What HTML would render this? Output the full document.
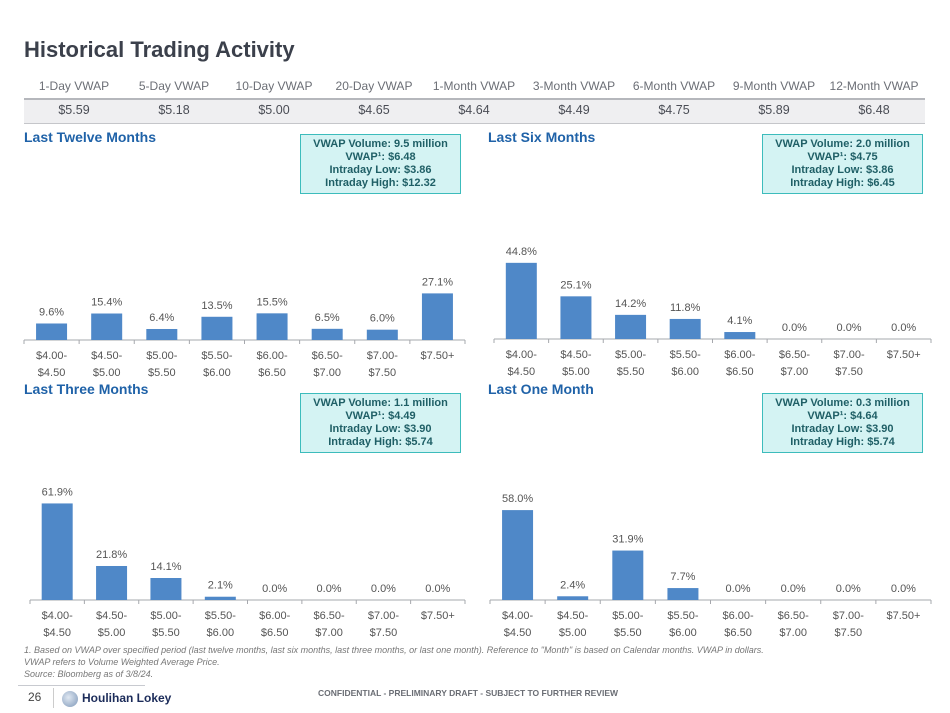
<!DOCTYPE html>
<html><head><meta charset="utf-8">
<style>
body{margin:0;background:#fff;}
#page{position:relative;width:950px;height:713px;overflow:hidden;font-family:"Liberation Sans",sans-serif;background:#fff;}
.abs{position:absolute;}
#title{left:24px;top:37px;font-size:22px;font-weight:bold;color:#3b404b;}
.hdr{position:absolute;top:79px;width:100px;text-align:center;font-size:12px;color:#6b6e75;}
.val{position:absolute;top:103px;width:100px;text-align:center;font-size:12.5px;color:#4a4d55;}
.sec{position:absolute;font-size:14px;font-weight:bold;color:#1f62a8;}
.box{position:absolute;width:161px;height:60px;background:#d4f3f3;border:1.5px solid #3cbcbc;box-sizing:border-box;text-align:center;font-size:11px;font-weight:bold;color:#1f5f66;line-height:13px;padding-top:3px;}
.foot{position:absolute;left:24px;font-size:9px;font-style:italic;color:#777;}
</style></head><body>
<div id="page">
<div id="title" class="abs">Historical Trading Activity</div>
<div class="abs" style="left:24px;top:98px;width:901px;height:23px;background:#efeff1;border-top:2px solid #b5b7bc;border-bottom:1px solid #c5c6ca;"></div>
<div id="vwap-table"></div>

<div class="sec" style="left:24px;top:129px;">Last Twelve Months</div>
<div class="sec" style="left:488px;top:129px;">Last Six Months</div>
<div class="sec" style="left:24px;top:381px;">Last Three Months</div>
<div class="sec" style="left:488px;top:381px;">Last One Month</div>

<div class="box" style="left:300px;top:134px;">VWAP Volume: 9.5 million<br>VWAP¹: $6.48<br>Intraday Low: $3.86<br>Intraday High: $12.32</div>
<div class="box" style="left:762px;top:134px;">VWAP Volume: 2.0 million<br>VWAP¹: $4.75<br>Intraday Low: $3.86<br>Intraday High: $6.45</div>
<div class="box" style="left:300px;top:393px;">VWAP Volume: 1.1 million<br>VWAP¹: $4.49<br>Intraday Low: $3.90<br>Intraday High: $5.74</div>
<div class="box" style="left:762px;top:393px;">VWAP Volume: 0.3 million<br>VWAP¹: $4.64<br>Intraday Low: $3.90<br>Intraday High: $5.74</div>

<svg id="charts" class="abs" style="left:0;top:0;" width="950" height="713"></svg>

<div class="foot" style="top:645px;">1. Based on VWAP over specified period (last twelve months, last six months, last three months, or last one month). Reference to "Month" is based on Calendar months. VWAP in dollars.</div>
<div class="foot" style="top:657px;">VWAP refers to Volume Weighted Average Price.</div>
<div class="foot" style="top:669px;">Source: Bloomberg as of 3/8/24.</div>

<div class="abs" style="left:18px;top:685px;width:127px;height:1px;background:#c8cad0;"></div>
<div class="abs" style="left:28px;top:690px;font-size:12px;color:#444;">26</div>
<div class="abs" style="left:53px;top:688px;width:1px;height:20px;background:#ccc;"></div>
<div class="abs" style="left:62px;top:691px;width:16px;height:16px;border-radius:50%;background:radial-gradient(circle at 40% 40%,#e0e8f2,#7d97b8);"></div>
<div class="abs" style="left:82px;top:691px;font-size:12px;font-weight:bold;color:#1c2c5a;">Houlihan Lokey</div>
<div class="abs" style="left:318px;top:688px;font-size:8.5px;font-weight:bold;color:#6a6d74;">CONFIDENTIAL - PRELIMINARY DRAFT - SUBJECT TO FURTHER REVIEW</div>
</div>
<script>
const vwapHeaders=["1-Day VWAP","5-Day VWAP","10-Day VWAP","20-Day VWAP","1-Month VWAP","3-Month VWAP","6-Month VWAP","9-Month VWAP","12-Month VWAP"];
const vwapValues=["$5.59","$5.18","$5.00","$4.65","$4.64","$4.49","$4.75","$5.89","$6.48"];
const categories=[["$4.00-","$4.50"],["$4.50-","$5.00"],["$5.00-","$5.50"],["$5.50-","$6.00"],["$6.00-","$6.50"],["$6.50-","$7.00"],["$7.00-","$7.50"],["$7.50+",""]];
const ltmValues=[9.6,15.4,6.4,13.5,15.5,6.5,6.0,27.1];
const sixMonthValues=[44.8,25.1,14.2,11.8,4.1,0.0,0.0,0.0];
const threeMonthValues=[61.9,21.8,14.1,2.1,0.0,0.0,0.0,0.0];
const oneMonthValues=[58.0,2.4,31.9,7.7,0.0,0.0,0.0,0.0];

const tbl=document.getElementById('vwap-table');
vwapHeaders.forEach((h,i)=>{
  const d=document.createElement('div');d.className='hdr';d.style.left=(24+i*100)+'px';d.textContent=h;
  
  
  tbl.appendChild(d);
  const v=document.createElement('div');v.className='val';v.style.left=(24+i*100)+'px';v.textContent=vwapValues[i];
  
  
  tbl.appendChild(v);
});

const svg=document.getElementById('charts');
const NS='http://www.w3.org/2000/svg';
function mk(tag,attrs){const e=document.createElementNS(NS,tag);for(const k in attrs)e.setAttribute(k,attrs[k]);svg.appendChild(e);return e;}
function drawChart(name,values,x0,x1,axisY,pxPer){
  const n=categories.length, slot=(x1-x0)/n, bw=31;
  const xScale=i=>x0+slot*i+slot/2;
  const yScale=v=>axisY-v*pxPer;
  const ax=mk('line',{x1:x0,x2:x1,y1:axisY,y2:axisY,stroke:'#a6a8ad','stroke-width':1});
  
  
  for(let i=0;i<=n;i++){
    const t=mk('line',{x1:x0+slot*i,x2:x0+slot*i,y1:axisY,y2:axisY+4,stroke:'#a6a8ad'});
    
    
  }
  values.forEach((v,i)=>{
    const cx=xScale(i), top=yScale(v);
    const r=mk('rect',{x:cx-bw/2,y:top,width:bw,height:axisY-top,fill:'#4f88c8'});
    
    
    const t=mk('text',{x:cx,y:top-8,'text-anchor':'middle','font-size':'11','fill':'#555','font-family':'Liberation Sans, sans-serif'});
    t.textContent=v.toFixed(1)+'%';
    
    
    categories[i].forEach((line,j)=>{
      if(!line)return;
      const c=mk('text',{x:cx,y:axisY+19+j*17,'text-anchor':'middle','font-size':'11','fill':'#555','font-family':'Liberation Sans, sans-serif'});
      c.textContent=line;
      
      
    });
  });
}
drawChart('ltm',ltmValues,24,465,340,1.72);
drawChart('six-month',sixMonthValues,494,931,339,1.70);
drawChart('three-month',threeMonthValues,30,465,600,1.56);
drawChart('one-month',oneMonthValues,490,931,600,1.55);
</script>
</body></html>
